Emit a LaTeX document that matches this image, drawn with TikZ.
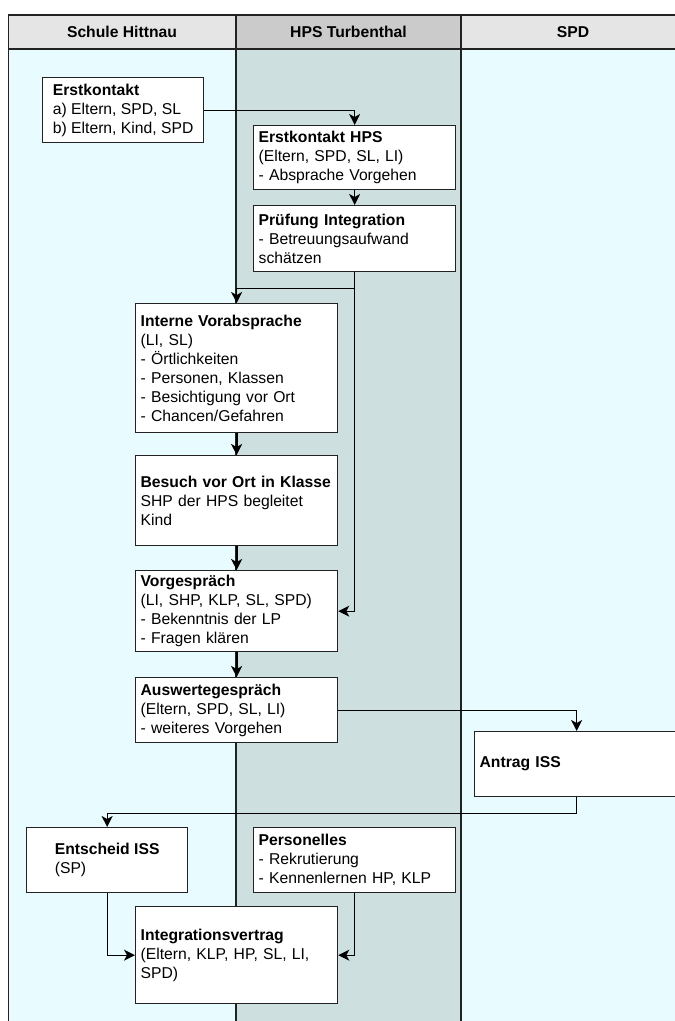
\documentclass[tikz,border=0pt]{standalone}
\usepackage{fontspec}
\setmainfont{Liberation Sans}
\usetikzlibrary{arrows.meta}
\definecolor{lanecyan}{HTML}{E8FCFF}
\definecolor{lanegray}{HTML}{CEDFDF}
\definecolor{headlight}{HTML}{E5E5E5}
\definecolor{headdark}{HTML}{CBCBCB}
\definecolor{linecol}{HTML}{222222}
\begin{document}
\begin{tikzpicture}[x=1pt,y=-1pt,
  box/.style={draw=linecol, line width=1.3pt, fill=white, anchor=north west,
    inner xsep=5pt, inner ysep=0pt, align=left,
    font=\fontsize{15.7}{19}\selectfont},
  lane/.style={draw=linecol, line width=1.2pt},
  conn/.style={draw=black, line width=1.3pt,
    -{Stealth[length=11pt,width=11pt,inset=3pt]}},
  connthick/.style={conn, line width=2pt},
  hdr/.style={font=\bfseries\fontsize{15.7}{19}\selectfont}]
\useasboundingbox (0,0) rectangle (675,1021);
% lanes
\fill[lanecyan] (8.5,49) rectangle (236,1030);
\fill[lanegray] (236,49) rectangle (461,1030);
\fill[lanecyan] (461,49) rectangle (690,1030);
\fill[headlight] (8.5,15) rectangle (236,49);
\fill[headdark] (236,15) rectangle (461,49);
\fill[headlight] (461,15) rectangle (690,49);
\draw[lane] (690,15) -- (8.5,15) -- (8.5,1030);
\draw[lane] (8.5,49) -- (690,49);
\draw[lane] (236,15) -- (236,1030);
\draw[lane] (461,15) -- (461,1030);
% headers
\node[hdr] (h1) at (122,32) {Schule Hittnau};
\node[hdr] (h2) at (348.5,32) {HPS Turbenthal};
\node[hdr] (h3) at (573,32) {SPD};
% boxes
\node[box, minimum width=161pt, minimum height=65pt] (ek) at (42,77)
  {\textbf{Erstkontakt}\\a) Eltern, SPD, SL\\b) Eltern, Kind, SPD};
\node[box, text width=192pt, minimum height=64pt] (ekh) at (253,125)
  {\textbf{Erstkontakt HPS}\\(Eltern, SPD, SL, LI)\\- Absprache Vorgehen};
\node[box, text width=192pt, minimum height=66pt] (pi) at (253,205)
  {\textbf{Prüfung Integration}\\- Betreuungsaufwand\\schätzen};
\node[box, text width=192pt, minimum height=129pt] (iv) at (135,303)
  {\textbf{Interne Vorabsprache}\\(LI, SL)\\- Örtlichkeiten\\- Personen, Klassen\\- Besichtigung vor Ort\\- Chancen/Gefahren};
\node[box, text width=192pt, minimum height=90pt] (bv) at (135,455)
  {\textbf{Besuch vor Ort in Klasse}\\SHP der HPS begleitet\\Kind};
\node[box, text width=192pt, minimum height=81pt] (vg) at (135,570)
  {\textbf{Vorgespräch}\\(LI, SHP, KLP, SL, SPD)\\- Bekenntnis der LP\\- Fragen klären};
\node[box, text width=192pt, minimum height=65pt] (aw) at (135,677)
  {\textbf{Auswertegespräch}\\(Eltern, SPD, SL, LI)\\- weiteres Vorgehen};
\node[box, text width=194pt, minimum height=65pt] (ai) at (474,731)
  {\textbf{Antrag ISS}};
\node[box, minimum width=161pt, minimum height=65pt] (es) at (26,827)
  {\textbf{Entscheid ISS}\\(SP)};
\node[box, text width=192pt, minimum height=65pt] (pe) at (253,827)
  {\textbf{Personelles}\\- Rekrutierung\\- Kennenlernen HP, KLP};
\node[box, text width=192pt, minimum height=97pt] (ivt) at (135,906)
  {\textbf{Integrationsvertrag}\\(Eltern, KLP, HP, SL, LI,\\SPD)};
% connectors
\draw[conn] (ek.east) -| (ekh.north);
\draw[conn] (ekh.south) -- (pi.north);
\path (pi.south) ++(0,16) coordinate (j1);
\draw[conn] (pi.south) -- (j1) -| (iv.north);
\draw[conn] (j1) |- (vg.east);
\draw[connthick] (iv.south) -- (bv.north);
\draw[connthick] (bv.south) -- (vg.north);
\draw[connthick] (vg.south) -- (aw.north);
\draw[conn] (aw.east) -| (ai.north);
\path (ai.south) ++(0,16) coordinate (j2);
\draw[conn] (ai.south) -- (j2) -| (es.north);
\draw[conn] (es.south) |- (ivt.west);
\draw[conn] (pe.south) |- (ivt.east);
\end{tikzpicture}
\end{document}
